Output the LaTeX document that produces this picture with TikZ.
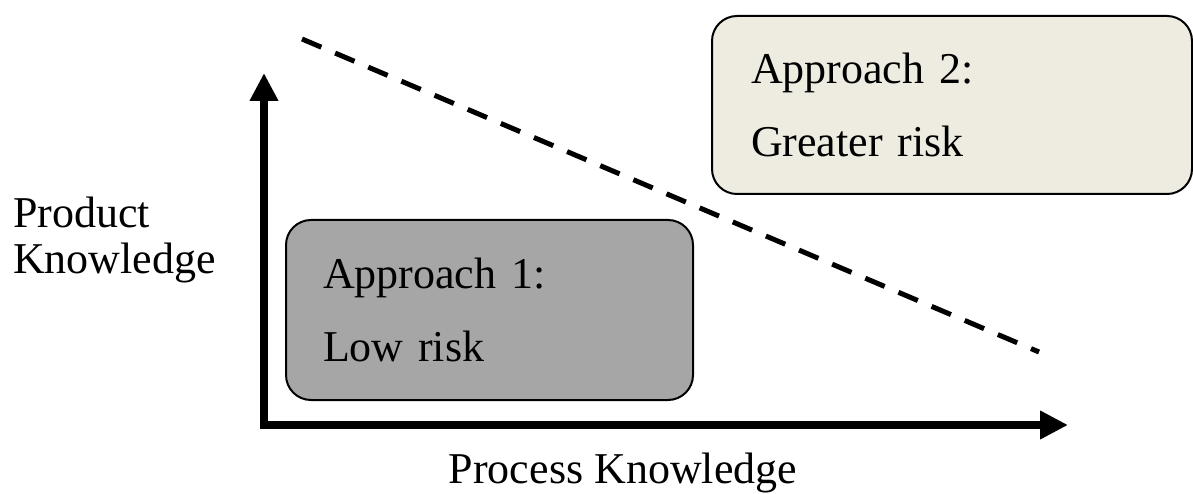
\documentclass[tikz,border=0pt]{standalone}
\usepackage{fontspec}
\setmainfont{Liberation Serif}
\usepackage{tikz}
\usetikzlibrary{arrows.meta}

\definecolor{lowgray}{HTML}{A6A6A6}
\definecolor{highcream}{HTML}{EEECE1}

\begin{document}
\begin{tikzpicture}[x=1pt, y=-1pt]
            % Define styles
            \tikzstyle{approach} = [rectangle, rounded corners=25pt, draw=black, line width=2pt, align=left, inner ysep=0pt, font=\fontsize{44}{73}\selectfont]
            \tikzstyle{axislabel} = [inner sep=0pt, align=left, font=\fontsize{44}{46}\selectfont]
            \tikzstyle{axis} = [line width=8pt, line join=miter, {Triangle[length=28pt,width=27pt]}-{Triangle[length=28pt,width=27pt]}]
            \tikzstyle{border} = [line width=5pt, dash pattern=on 21pt off 15pt]

            \useasboundingbox (0,0) rectangle (1193,494);

            % Axes
            \coordinate (origin) at (264,425);
            \coordinate (ytip) at (264,73);
            \coordinate (xtip) at (1068,425);
            \draw [axis] (ytip) -- (origin) -- (xtip);

            % Axis labels
            \node (product) [axislabel, anchor=west] at (13,240) {Product\\Knowledge};
            \node (process) [axislabel, anchor=base] at (623,483) {Process Knowledge};

            % Approach boxes
            \node (low) [approach, fill=lowgray, minimum width=407pt, minimum height=180pt, inner xsep=37pt, text width=333pt] at (489.5,310) {Approach 1:\\Low risk};
            \node (high) [approach, fill=highcream, minimum width=480pt, minimum height=178pt, inner xsep=39pt, text width=402pt] at (952,105) {Approach 2:\\Greater risk};

            % Dashed boundary
            \coordinate (borderstart) at (302,39);
            \coordinate (borderend) at (1039,352);
            \draw [border] (borderstart) -- (borderend);
        \end{tikzpicture}
\end{document}
